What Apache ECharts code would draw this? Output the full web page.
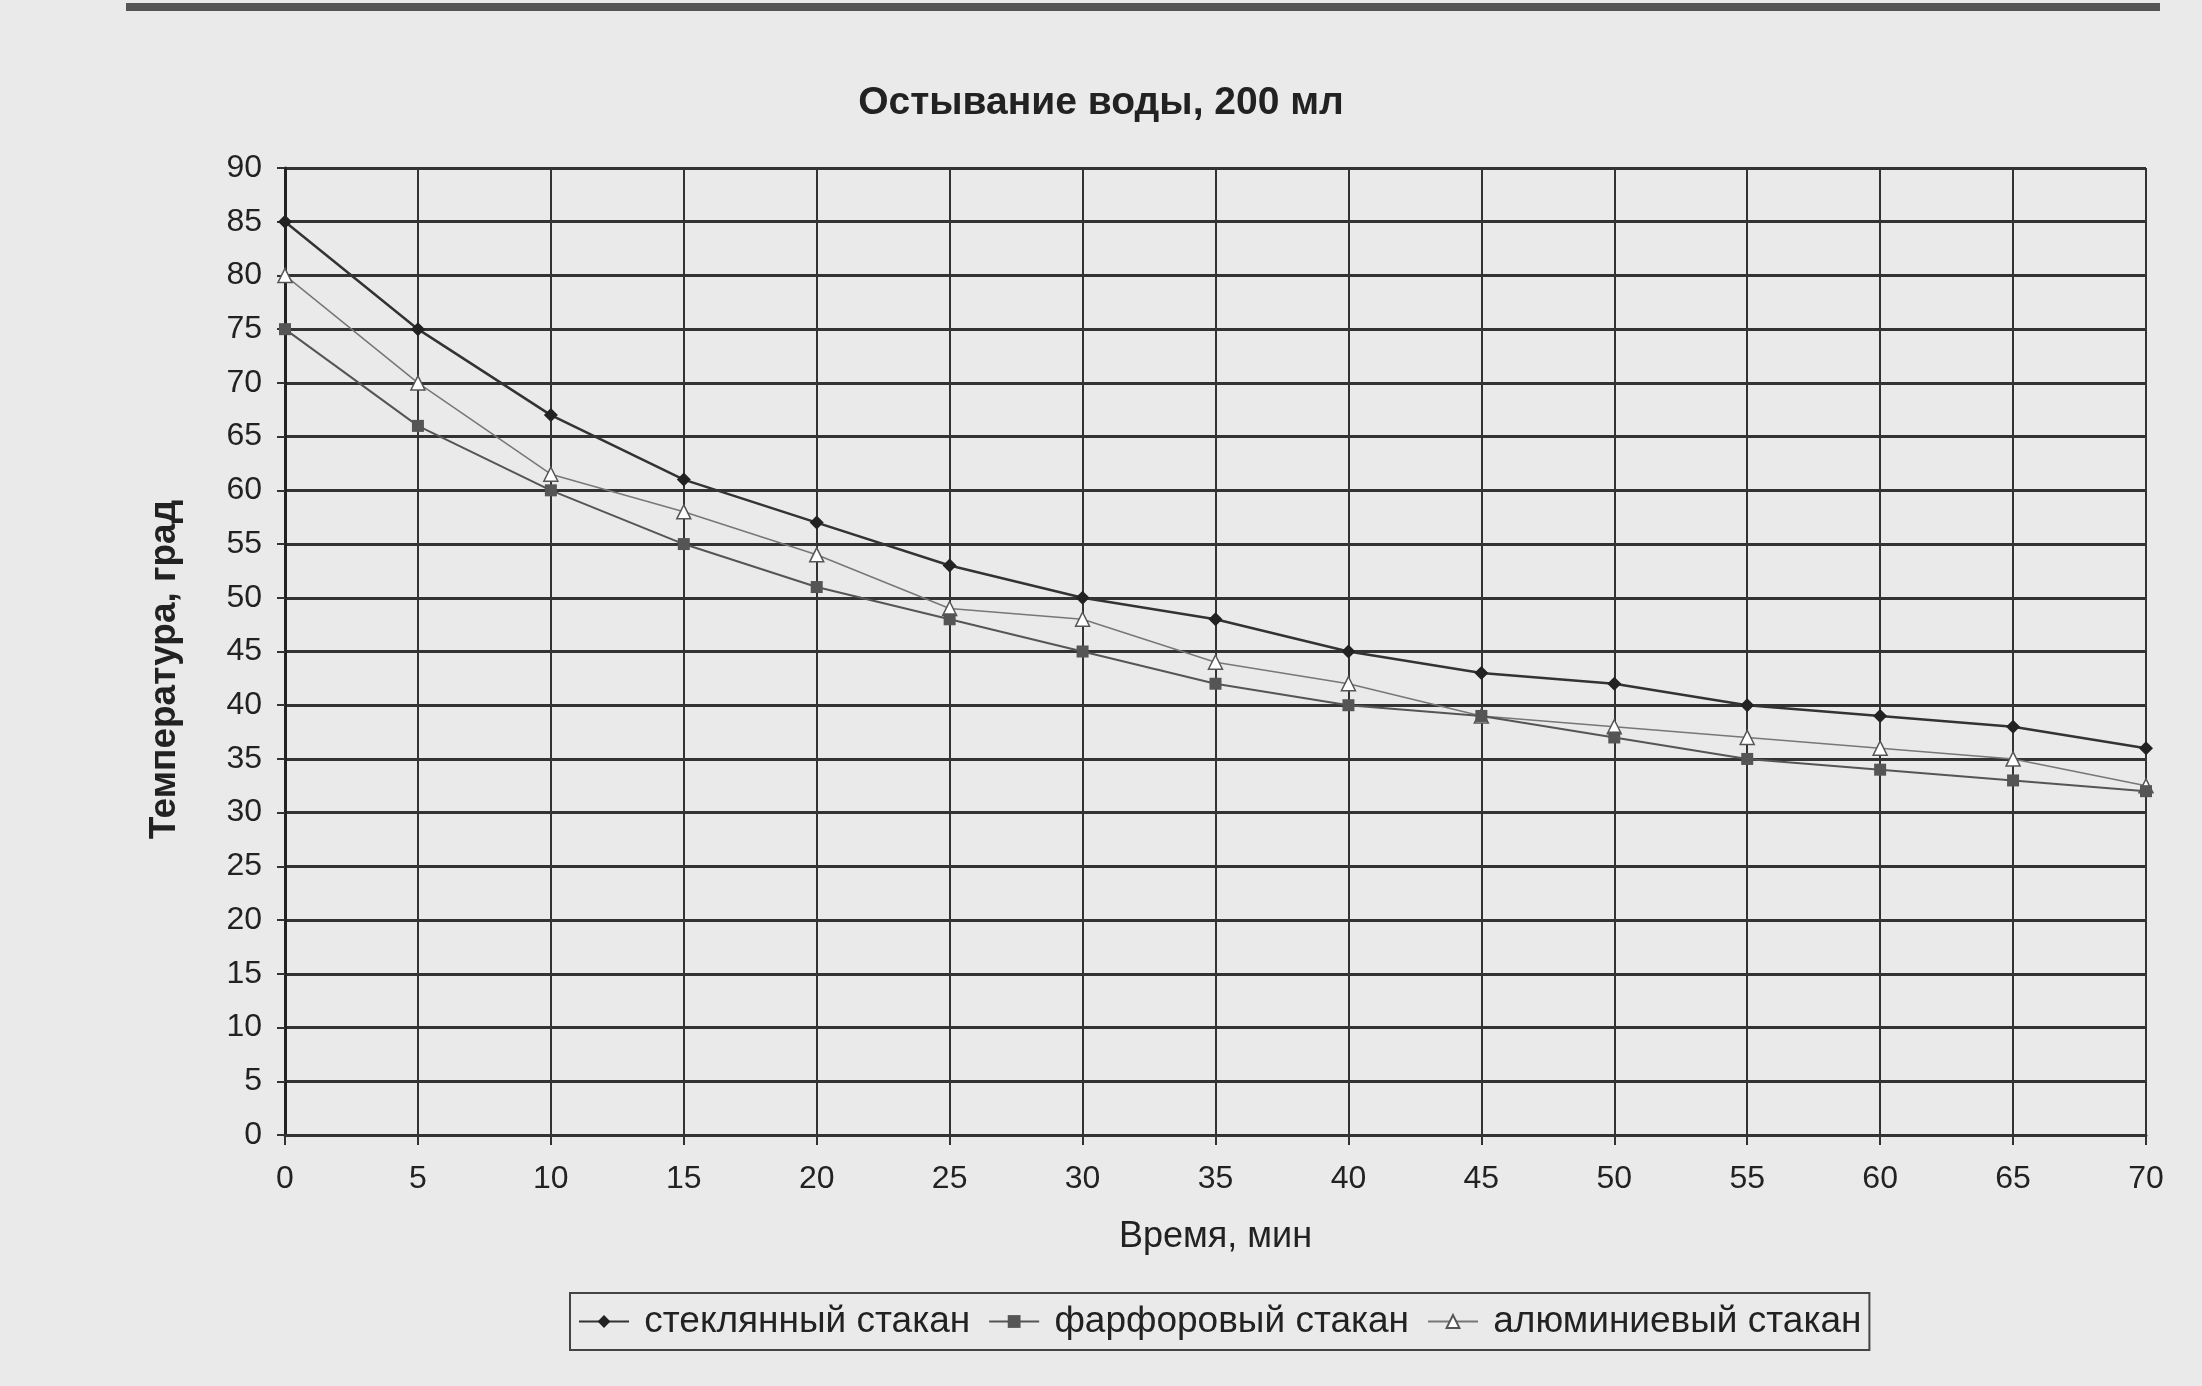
<!DOCTYPE html>
<html>
<head>
<meta charset="utf-8">
<script src="https://cdn.jsdelivr.net/npm/echarts@6/dist/echarts.min.js"></script>
<style>
html,body{margin:0;padding:0;background:#eaeaea;}
#chart{width:2202px;height:1386px;}
</style>
</head>
<body>
<div id="chart"></div>
<script>
const titleText = 'Остывание воды, 200 мл';
const xName = 'Время, мин';
const yName = 'Температура, град';
const minutes = [0,5,10,15,20,25,30,35,40,45,50,55,60,65,70];
const glass = [85,75,67,61,57,53,50,48,45,43,42,40,39,38,36];
const porcelain = [75,66,60,55,51,48,45,42,40,39,37,35,34,33,32];
const aluminium = [80,70,61.5,58,54,49,48,44,42,39,38,37,36,35,32.5];
const seriesNames = ['стеклянный стакан','фарфоровый стакан','алюминиевый стакан'];

const pairs = arr => minutes.map((m,i)=>[m,arr[i]]);
const font = 'Liberation Sans, Arial, sans-serif';

const chart = echarts.init(document.getElementById('chart'));
chart.setOption({
  backgroundColor:'#eaeaea',
  animation:false,
  textStyle:{fontFamily:font},
  title:{
    text:titleText, left:'center', top:79,
    textStyle:{fontFamily:font,fontSize:39,fontWeight:'bold',color:'#222'}
  },
  graphic:[{type:'rect',shape:{x:126,y:3,width:2034,height:8},style:{fill:'#555'}}],
  grid:{left:285,right:56,top:168,bottom:251},
  xAxis:{
    type:'value', min:0, max:70, interval:5,
    name:xName, nameLocation:'middle', nameGap:84,
    nameTextStyle:{fontFamily:font,fontSize:36,color:'#222'},
    axisLine:{onZero:false,lineStyle:{color:'#333',width:3}},
    axisTick:{show:true,length:10,lineStyle:{color:'#333',width:2}},
    axisLabel:{fontFamily:font,fontSize:32,color:'#222',margin:28},
    splitLine:{show:true,lineStyle:{color:'#333',width:2}}
  },
  yAxis:{
    type:'value', min:0, max:90, interval:5,
    name:yName, nameLocation:'middle', nameGap:102,
    nameTextStyle:{fontFamily:font,fontSize:37,fontWeight:'bold',color:'#222',padding:[0,36,0,0]},
    axisLine:{show:true,lineStyle:{color:'#222',width:3}},
    axisTick:{show:true,length:8,lineStyle:{color:'#333',width:2}},
    axisLabel:{fontFamily:font,fontSize:32,color:'#222',margin:23},
    splitLine:{show:true,lineStyle:{color:'#333',width:3}}
  },
  legend:{
    data:seriesNames, left:570, top:1293,
    width:1400,
    itemWidth:50, itemHeight:16, itemGap:18,
    padding:[10,8,10,8],
    borderColor:'#444', borderWidth:2,
    backgroundColor:'#eaeaea',
    formatter: n => ' ' + n,
    textStyle:{fontFamily:font,fontSize:37,color:'#222'}
  },
  series:[
    {name:seriesNames[2],type:'line',data:pairs(aluminium),symbol:'triangle',symbolSize:14,
     lineStyle:{color:'#777',width:1.5},itemStyle:{color:'#fff',borderColor:'#555',borderWidth:1.5},z:3},
    {name:seriesNames[1],type:'line',data:pairs(porcelain),symbol:'rect',symbolSize:12,
     lineStyle:{color:'#555',width:2},itemStyle:{color:'#555'},z:4},
    {name:seriesNames[0],type:'line',data:pairs(glass),symbol:'diamond',symbolSize:14,
     lineStyle:{color:'#333',width:2.5},itemStyle:{color:'#222'},z:5}
  ]
});
</script>
</body>
</html>
